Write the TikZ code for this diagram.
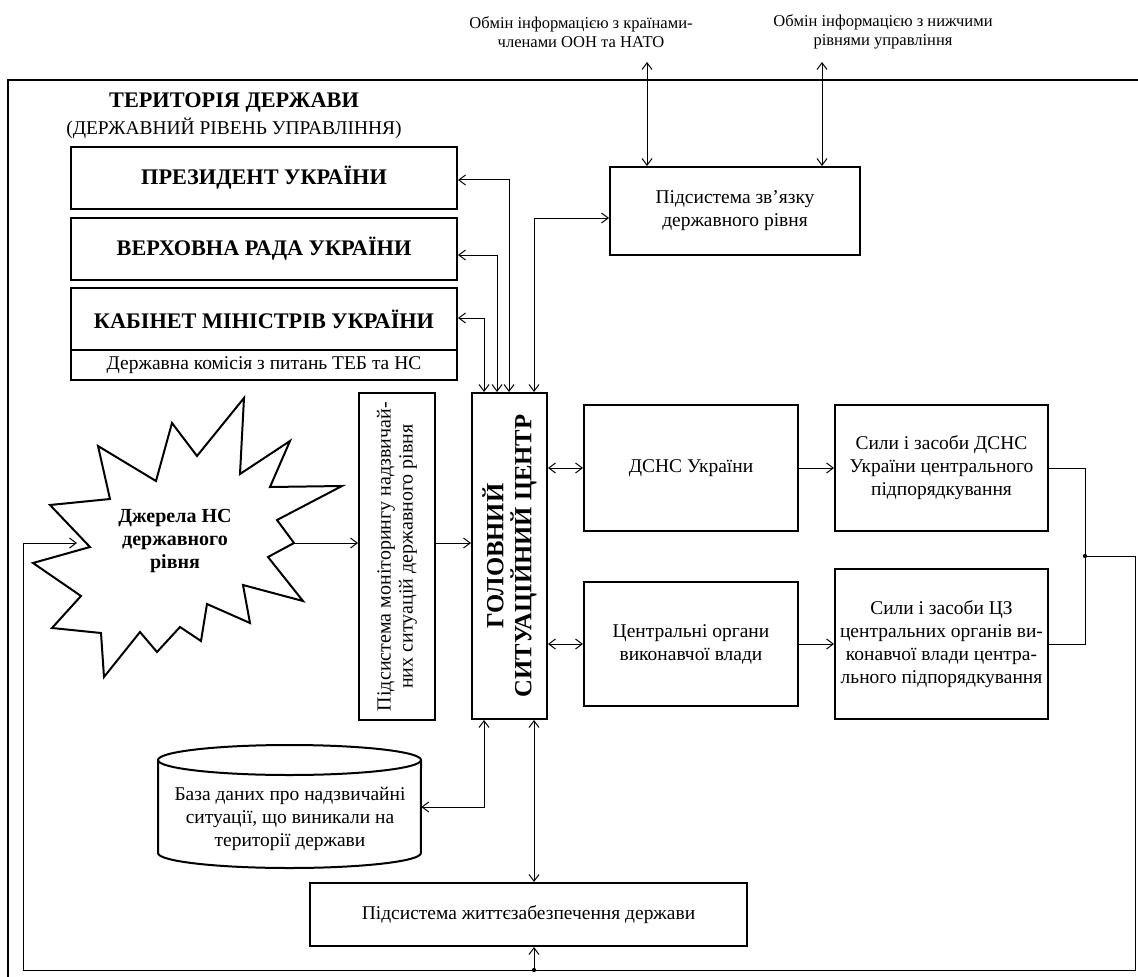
\documentclass[tikz,border=0pt]{standalone}
\usepackage{fontspec}
\setmainfont{Liberation Serif}
\usetikzlibrary{arrows.meta}
\tikzset{
  >={Straight Barb[length=5pt,width=7.5pt]},
  box/.style={draw,line width=1.5pt,inner sep=0pt,align=center,font=\fontsize{14.6}{17.2}\selectfont},
  bigbox/.style={box,minimum width=289.5pt,minimum height=46.5pt,font=\bfseries\fontsize{16.7}{19}\selectfont},
  thinbox/.style={box,line width=1pt},
  conn/.style={line width=0.75pt},
  txt/.style={inner sep=0pt,align=center,font=\fontsize{14.6}{17.2}\selectfont},
  toptxt/.style={inner sep=0pt,align=center,font=\fontsize{12.4}{14.25}\selectfont}
}
\begin{document}
\begin{tikzpicture}[x=0.75pt,y=-0.75pt]
\useasboundingbox (0,0) rectangle (1138,977);
\fill[white] (0,0) rectangle (1138,977);
% outer frame
\draw[line width=2pt] (8,977) -- (8,80) -- (1138,80);
% titles
\node[inner sep=0pt,font=\bfseries\fontsize{16.7}{19}\selectfont] (title) at (234,103) {ТЕРИТОРІЯ ДЕРЖАВИ};
\node[txt] (subtitle) at (234,128) {(ДЕРЖАВНИЙ РІВЕНЬ УПРАВЛІННЯ)};
% top texts
\node[toptxt] (t1) at (581,32) {Обмін інформацією з країнами-\\членами ООН та НАТО};
\node[toptxt] (t2) at (883,32) {Обмін інформацією з нижчими\\рівнями управління};
% left boxes
\node[bigbox] (pres) at (264,178) {ПРЕЗИДЕНТ УКРАЇНИ};
\node[bigbox] (verkh) at (264,249) {ВЕРХОВНА РАДА УКРАЇНИ};
\node[bigbox] (kab) at (264,319) {КАБІНЕТ МІНІСТРІВ УКРАЇНИ};
\node[thinbox,minimum width=289.5pt,minimum height=22.5pt] (kom) at (264,365) {Державна комісія з питань ТЕБ та НС};
% communication subsystem
\node[box,minimum width=187.5pt,minimum height=66pt] (zv) at (735,211) {Підсистема зв’язку\\державного рівня};
% monitoring and GSC
\node[box,minimum width=57pt,minimum height=245.25pt] (mon) at (397,556.5) {};
\node[txt,rotate=90,font=\fontsize{15}{16.5}\selectfont] (monT) at (mon.center) {Підсистема моніторингу надзвичай-\\них ситуацій державного рівня};
\node[box,minimum width=56.25pt,minimum height=244.5pt] (gsc) at (509.5,556) {};
\node[txt,rotate=90,font=\bfseries\fontsize{18.5}{21}\selectfont] (gscT) at (gsc.center) {ГОЛОВНИЙ\\СИТУАЦІЙНИЙ ЦЕНТР};
% right boxes
\node[box,minimum width=160.5pt,minimum height=94.5pt] (dsns) at (691,468) {ДСНС України};
\node[box,minimum width=159.75pt,minimum height=94.5pt] (silyd) at (941.5,468) {Сили і засоби ДСНС\\України центрального\\підпорядкування};
\node[box,minimum width=160.5pt,minimum height=93pt] (cov) at (691,644) {Центральні органи\\виконавчої влади};
\node[box,minimum width=159.75pt,minimum height=112.5pt] (silyc) at (941.5,644) {Сили і засоби ЦЗ\\центральних органів ви-\\конавчої влади центра-\\льного підпорядкування};
% life support
\node[box,minimum width=327.75pt,minimum height=47.25pt] (life) at (528.5,914.5) {Підсистема життєзабезпечення держави};
% database cylinder
\draw[line width=1.5pt,fill=white] (158,760) -- (158,853) arc[start angle=180,end angle=360,x radius=98.6pt,y radius=11.25pt] -- (421,760);
\draw[line width=1.5pt] (289.5,760) ellipse [x radius=98.6pt,y radius=11.25pt];
\node[txt,minimum width=197.25pt,minimum height=92.25pt] (db) at (289.5,806.5) {};
\node[txt] (dbT) at (290,819) {База даних про надзвичайні\\ситуації, що виникали на\\території держави};
% starburst
\draw[line width=1.5pt,fill=white] (244,398) -- (240,474) -- (290,441) -- (270,487) -- (342,486) -- (277,520) -- (294,543) -- (268,557) -- (303,601) -- (243,585) -- (250,623) -- (207,604) -- (201,641) -- (180,627) -- (157,652) -- (140,632) -- (104,677) -- (101,633) -- (52,628) -- (81,596) -- (33,563) -- (90,547) -- (50,505) -- (110,499) -- (98,446) -- (156,481) -- (172,423) -- (197,456) -- cycle;
\node[inner sep=0pt,align=center,font=\bfseries\fontsize{15}{17.5}\selectfont] (src) at (175,541) {Джерела НС\\державного\\рівня};
\coordinate (srcR) at (294,543);
\coordinate (srcL) at (77,543);
% bend coordinates
\coordinate (c1) at (509,180);
\coordinate (c2) at (497,255);
\coordinate (c3) at (484,318);
\coordinate (c4) at (534,218);
\coordinate (u1) at (647,62);
\coordinate (u2) at (822,62);
\coordinate (j) at (1085,556);
\coordinate (br) at (1135,970);
\coordinate (bd) at (534,970);
\coordinate (bl) at (23,970);
\coordinate (g1) at (484,807);
% connectors
\draw[conn,<->] (gsc.north -| c1) -- (c1) -- (pres.east |- c1);
\draw[conn,<->] (gsc.north -| c2) -- (c2) -- (verkh.east |- c2);
\draw[conn,<->] (gsc.north -| c3) -- (c3) -- (kab.east |- c3);
\draw[conn,<->] (gsc.north -| c4) -- (c4) -- (zv.west |- c4);
\draw[conn,<->] (u1) -- (zv.north -| u1);
\draw[conn,<->] (u2) -- (zv.north -| u2);
\draw[conn,->] (srcR) -- (mon.west |- srcR);
\draw[conn,->] (mon.east |- srcR) -- (gsc.west |- srcR);
\draw[conn,<->] (gsc.east |- dsns.west) -- (dsns.west);
\draw[conn,->] (dsns.east) -- (silyd.west |- dsns.east);
\draw[conn,<->] (gsc.east |- cov.west) -- (cov.west);
\draw[conn,->] (cov.east) -- (silyc.west |- cov.east);
\draw[conn] (silyd.east) -| (j);
\draw[conn] (silyc.east |- cov.east) -| (j);
\fill (j) circle (1.6pt);
\draw[conn] (j) -| (br) -- (bd);
\draw[conn,->] (bd) -- (bl) |- (srcL);
\draw[conn,->] (bd) -- (life.south -| bd);
\fill (bd) circle (1.6pt);
\draw[conn,<->] (gsc.south -| g1) -- (g1) -- (db.east |- g1);
\draw[conn,<->] (gsc.south -| bd) -- (life.north -| bd);
\end{tikzpicture}
\end{document}
